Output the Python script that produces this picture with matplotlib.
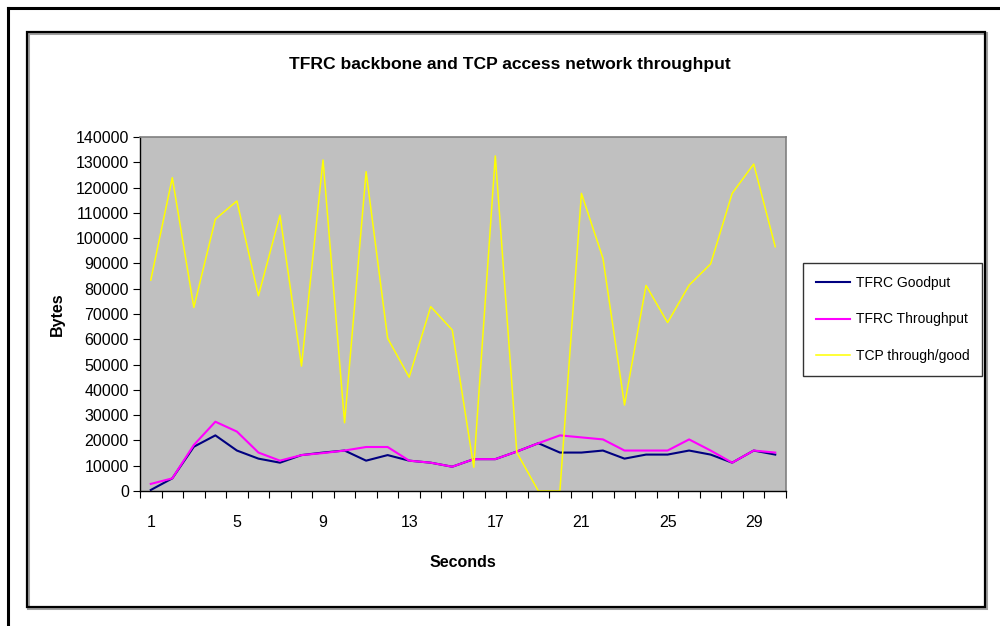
import matplotlib
matplotlib.use('Agg')
import matplotlib.pyplot as plt
from matplotlib.lines import Line2D
from matplotlib.patches import Rectangle

plt.rcParams['font.family'] = ['Liberation Sans', 'DejaVu Sans']

seconds = list(range(1, 31))
tfrc_goodput = [400, 5000, 17500, 22000, 16000, 12800, 11200, 14200, 15200, 16000,
                12000, 14200, 12000, 11200, 9600, 12600, 12600, 15600, 18900, 15200,
                15200, 16000, 12800, 14400, 14400, 16000, 14400, 11200, 16000, 14400]
tfrc_throughput = [2800, 5000, 18200, 27400, 23500, 15200, 12000, 14200, 15000, 16000,
                   17400, 17400, 12000, 11200, 9600, 12600, 12600, 15600, 18900, 22000,
                   21200, 20400, 16000, 16000, 16000, 20400, 16000, 11200, 16000, 15200]
tcp = [83400, 123900, 72600, 107500, 114700, 77200, 109100, 49400, 130900, 27000,
       126300, 60400, 45000, 72900, 63700, 9400, 132500, 15200, 0, 0,
       117700, 92000, 34000, 81300, 66600, 81400, 89800, 117700, 129300, 96600]
xtick_labels = ['1', '5', '9', '13', '17', '21', '25', '29']
yticks = list(range(0, 140001, 10000))

fig = plt.figure(figsize=(10, 6.26), dpi=100)
W, H = 1000, 626

# outer frame (top + left only, image is cropped)
fig.add_artist(Line2D([8 / W, 1.0], [1 - 8 / H, 1 - 8 / H], color='black', lw=2.2, transform=fig.transFigure))
fig.add_artist(Line2D([8 / W, 8 / W], [1 - 8 / H, 0], color='black', lw=2.2, transform=fig.transFigure))
# chart area border with a little grey shadow
fig.add_artist(Rectangle((28 / W, 1 - 608 / H), (985 - 27) / W, (607 - 32) / H, transform=fig.transFigure,
                         fill=False, ec='#a0a0a0', lw=2.2))
fig.add_artist(Rectangle((27 / W, 1 - 607 / H), (985 - 27) / W, (607 - 32) / H, transform=fig.transFigure,
                         fill=False, ec='black', lw=1.6))

ax = fig.add_axes([140 / W, 1 - 491 / H, 646 / W, 354 / H])
ax.set_facecolor('#c0c0c0')

ax.plot(seconds, tfrc_goodput, color='#000080', lw=1.5, label='TFRC Goodput')
ax.plot(seconds, tfrc_throughput, color='#ff00ff', lw=1.5, label='TFRC Throughput')
ax.plot(seconds, tcp, color='#ffff00', lw=1.1, label='TCP through/good')

ax.set_xlim(0.5, 30.5)
ax.set_ylim(0, 140000)
ax.set_yticks(yticks)
ax.set_yticklabels([str(v) for v in yticks], fontsize=11.5)
ax.set_xticks([s - 0.5 for s in seconds] + [30.5])
ax.set_xticklabels([])
ax.set_xticks([int(l) for l in xtick_labels], minor=True)
ax.set_xticklabels(xtick_labels, minor=True, fontsize=11.5)
ax.tick_params(axis='x', which='minor', length=0, pad=17)
ax.tick_params(axis='x', which='major', length=5, direction='out')
ax.tick_params(axis='y', length=5, direction='out', pad=3)

for side in ['top', 'right']:
    ax.spines[side].set_color('#808080')
    ax.spines[side].set_linewidth(1.2)
for side in ['left', 'bottom']:
    ax.spines[side].set_color('black')
    ax.spines[side].set_linewidth(1.0)

ax.set_xlabel('Seconds', fontsize=11.5, fontweight='bold', labelpad=18)
ax.set_ylabel('Bytes', fontsize=11.5, fontweight='bold', labelpad=8)

fig.text(510 / W, 1 - 64 / H, 'TFRC backbone and TCP access network throughput',
         ha='center', va='center', fontsize=12.6, fontweight='bold')

leg = ax.legend(loc='upper left', bbox_to_anchor=(803 / W, 1 - 263 / H), bbox_transform=fig.transFigure,
                frameon=True, fancybox=False, fontsize=10, handlelength=2.5, labelspacing=1.65,
                borderpad=0.9, handletextpad=0.4, borderaxespad=0)
leg.get_frame().set_edgecolor('black')
leg.get_frame().set_linewidth(1.0)

fig.savefig('out.png', dpi=100)
